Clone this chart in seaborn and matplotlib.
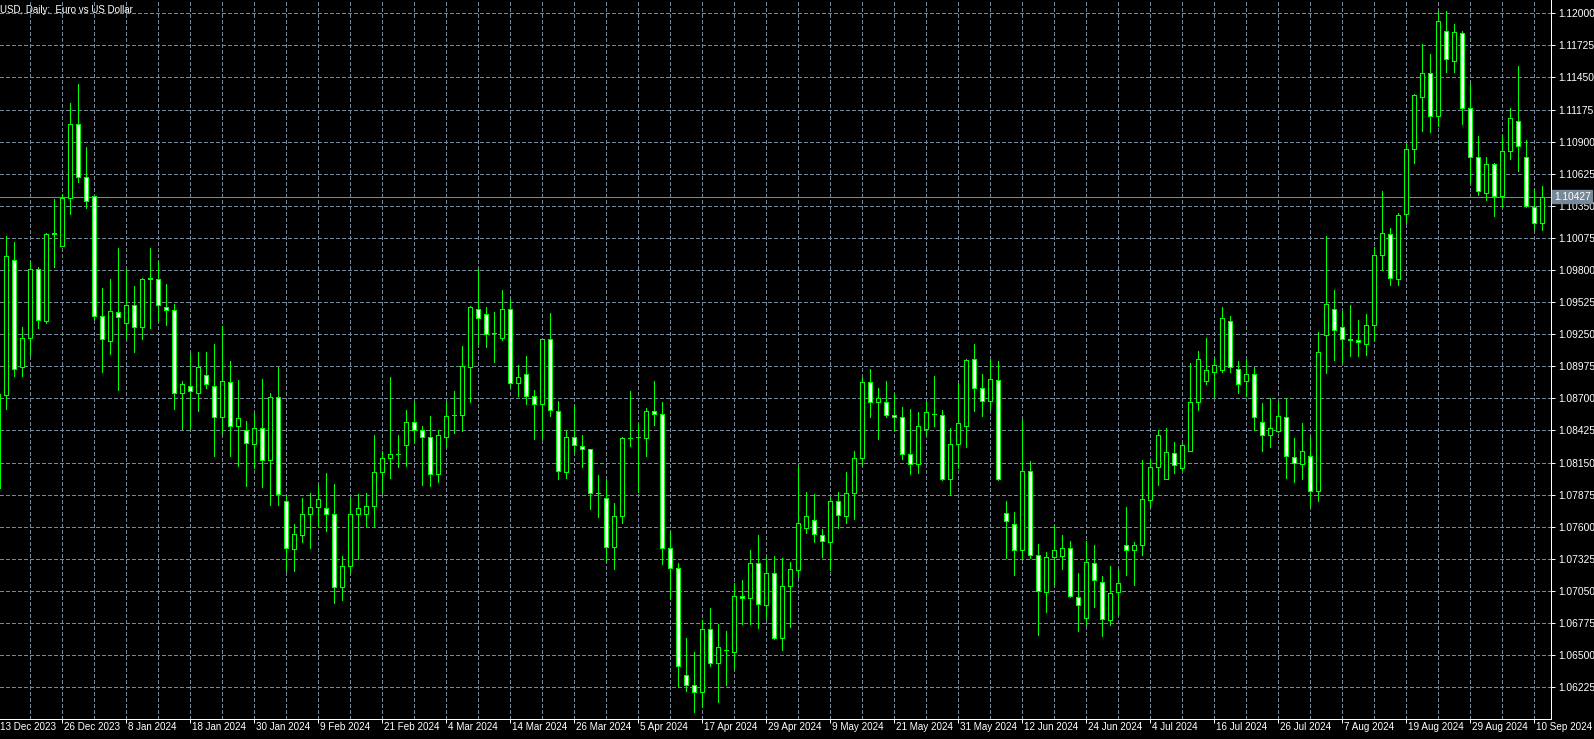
import matplotlib
matplotlib.use("Agg")
import matplotlib.pyplot as plt
import seaborn as sns
import numpy as np

# ---------------- data (EURUSD daily) ----------------
opens = [1.0793, 1.0873, 1.0989, 1.0897, 1.0922, 1.0981, 1.0936, 1.1011, 1.1001, 1.1042,
         1.1105, 1.1060, 1.1043, 1.0941, 1.0919, 1.0944, 1.0935, 1.0950, 1.0931, 1.0972,
         1.0972, 1.0948, 1.0946, 1.0875, 1.0881, 1.0875, 1.0890, 1.0881, 1.0854, 1.0884,
         1.0846, 1.0843, 1.0831, 1.0845, 1.0817, 1.0871, 1.0782, 1.0741, 1.0753, 1.0771,
         1.0777, 1.0776, 1.0771, 1.0708, 1.0726, 1.0771, 1.0771, 1.0778, 1.0807, 1.0819,
         1.0822, 1.0830, 1.0850, 1.0843, 1.0837, 1.0805, 1.0837, 1.0856, 1.0856, 1.0897,
         1.0947, 1.0942, 1.0926, 1.0922, 1.0947, 1.0883, 1.0891, 1.0872, 1.0865, 1.0921,
         1.0859, 1.0807, 1.0837, 1.0829, 1.0827, 1.0789, 1.0785, 1.0743, 1.0769, 1.0836,
         1.0837, 1.0836, 1.0859, 1.0857, 1.0742, 1.0725, 1.0633, 1.0624, 1.0618, 1.0672,
         1.0643, 1.0654, 1.0653, 1.0701, 1.0699, 1.0729, 1.0693, 1.0720, 1.0665, 1.0709,
         1.0723, 1.0759, 1.0766, 1.0753, 1.0747, 1.0782, 1.0769, 1.0789, 1.0819, 1.0884,
         1.0867, 1.0867, 1.0856, 1.0854, 1.0822, 1.0814, 1.0844, 1.0857, 1.0856, 1.0801,
         1.0831, 1.0846, 1.0904, 1.0879, 1.0868, 1.0886, 1.0772, 1.0762, 1.0740, 1.0808,
         1.0736, 1.0704, 1.0734, 1.0735, 1.0742, 1.0700, 1.0682, 1.0729, 1.0713, 1.0680,
         1.0704, 1.0744, 1.0740, 1.0744, 1.0783, 1.0811, 1.0801, 1.0823, 1.0810, 1.0825,
         1.0867, 1.0885, 1.0893, 1.0894, 1.0936, 1.0895, 1.0885, 1.0891, 1.0850, 1.0839,
         1.0842, 1.0854, 1.0820, 1.0814, 1.0821, 1.0791, 1.0924, 1.0947, 1.0931, 1.0921,
         1.0920, 1.0917, 1.0933, 1.0993, 1.1011, 1.0972, 1.1028, 1.1084, 1.1128, 1.1149,
         1.1112, 1.1185, 1.1159, 1.1183, 1.1119, 1.1077, 1.1046, 1.1071, 1.1043, 1.1082,
         1.1108, 1.1077, 1.1034, 1.1020]
highs = [1.0888, 1.1009, 1.1004, 1.0931, 1.0988, 1.0983, 1.1012, 1.1041, 1.1045, 1.1123,
         1.1139, 1.1085, 1.1044, 1.0965, 1.0972, 1.0999, 1.0980, 1.0966, 1.0973, 1.0999,
         1.0987, 1.0968, 1.0951, 1.0885, 1.0908, 1.0910, 1.0910, 1.0917, 1.0932, 1.0902,
         1.0886, 1.0851, 1.0857, 1.0887, 1.0875, 1.0897, 1.0786, 1.0762, 1.0785, 1.0789,
         1.0796, 1.0806, 1.0797, 1.0735, 1.0785, 1.0788, 1.0789, 1.0839, 1.0825, 1.0888,
         1.0839, 1.0860, 1.0867, 1.0846, 1.0855, 1.0843, 1.0867, 1.0876, 1.0915, 1.0949,
         1.0981, 1.0948, 1.0944, 1.0963, 1.0955, 1.0899, 1.0906, 1.0877, 1.0921, 1.0943,
         1.0868, 1.0843, 1.0864, 1.0839, 1.0827, 1.0804, 1.0800, 1.0780, 1.0837, 1.0876,
         1.0848, 1.0862, 1.0885, 1.0867, 1.0756, 1.0729, 1.0665, 1.0653, 1.0680, 1.0690,
         1.0677, 1.0671, 1.0712, 1.0714, 1.0740, 1.0753, 1.0734, 1.0735, 1.0733, 1.0730,
         1.0813, 1.0790, 1.0788, 1.0758, 1.0785, 1.0790, 1.0807, 1.0825, 1.0888, 1.0895,
         1.0879, 1.0885, 1.0874, 1.0863, 1.0861, 1.0858, 1.0867, 1.0889, 1.0860, 1.0845,
         1.0883, 1.0904, 1.0917, 1.0891, 1.0903, 1.0902, 1.0782, 1.0773, 1.0852, 1.0816,
         1.0745, 1.0738, 1.0761, 1.0753, 1.0748, 1.0720, 1.0748, 1.0744, 1.0718, 1.0726,
         1.0724, 1.0777, 1.0747, 1.0817, 1.0817, 1.0843, 1.0845, 1.0833, 1.0831, 1.0900,
         1.0911, 1.0922, 1.0905, 1.0948, 1.0941, 1.0902, 1.0903, 1.0897, 1.0866, 1.0870,
         1.0868, 1.0870, 1.0836, 1.0849, 1.0836, 1.0927, 1.1009, 1.0963, 1.0945, 1.0950,
         1.0937, 1.0942, 1.1000, 1.1048, 1.1016, 1.1029, 1.1088, 1.1131, 1.1174, 1.1165,
         1.1202, 1.1202, 1.1191, 1.1185, 1.1140, 1.1095, 1.1077, 1.1072, 1.1096, 1.1119,
         1.1155, 1.1091, 1.1049, 1.1052]
lows = [1.0773, 1.0861, 1.0889, 1.0889, 1.0907, 1.0930, 1.0935, 1.0983, 1.1001, 1.1028,
        1.1055, 1.1033, 1.0938, 1.0893, 1.0908, 1.0877, 1.0922, 1.0910, 1.0921, 1.0930,
        1.0936, 1.0933, 1.0861, 1.0844, 1.0845, 1.0859, 1.0879, 1.0821, 1.0840, 1.0821,
        1.0812, 1.0795, 1.0810, 1.0794, 1.0779, 1.0779, 1.0722, 1.0722, 1.0747, 1.0742,
        1.0761, 1.0756, 1.0695, 1.0697, 1.0721, 1.0732, 1.0761, 1.0761, 1.0789, 1.0802,
        1.0811, 1.0812, 1.0833, 1.0796, 1.0795, 1.0798, 1.0828, 1.0840, 1.0842, 1.0867,
        1.0917, 1.0914, 1.0901, 1.0920, 1.0880, 1.0872, 1.0865, 1.0835, 1.0835, 1.0855,
        1.0801, 1.0802, 1.0824, 1.0811, 1.0775, 1.0768, 1.0731, 1.0724, 1.0763, 1.0829,
        1.0790, 1.0821, 1.0847, 1.0728, 1.0698, 1.0623, 1.0619, 1.0601, 1.0606, 1.0641,
        1.0610, 1.0624, 1.0638, 1.0677, 1.0677, 1.0673, 1.0681, 1.0664, 1.0654, 1.0674,
        1.0717, 1.0755, 1.0747, 1.0734, 1.0723, 1.0759, 1.0763, 1.0767, 1.0813, 1.0854,
        1.0835, 1.0854, 1.0843, 1.0818, 1.0805, 1.0806, 1.0839, 1.0846, 1.0800, 1.0788,
        1.0810, 1.0828, 1.0859, 1.0855, 1.0861, 1.0800, 1.0733, 1.0719, 1.0732, 1.0733,
        1.0667, 1.0687, 1.0710, 1.0724, 1.0700, 1.0671, 1.0676, 1.0691, 1.0666, 1.0676,
        1.0685, 1.0719, 1.0710, 1.0736, 1.0777, 1.0796, 1.0801, 1.0806, 1.0809, 1.0825,
        1.0860, 1.0882, 1.0871, 1.0893, 1.0893, 1.0875, 1.0872, 1.0843, 1.0825, 1.0828,
        1.0841, 1.0802, 1.0798, 1.0801, 1.0777, 1.0782, 1.0892, 1.0903, 1.0901, 1.0906,
        1.0906, 1.0907, 1.0919, 1.0980, 1.0967, 1.0967, 1.1020, 1.1072, 1.1099, 1.1098,
        1.1103, 1.1150, 1.1150, 1.1105, 1.1055, 1.1044, 1.1040, 1.1026, 1.1035, 1.1075,
        1.1065, 1.1034, 1.1015, 1.1014]
closes = [1.0874, 1.0992, 1.0895, 1.0922, 1.0981, 1.0937, 1.1011, 1.1012, 1.1042, 1.1105,
          1.1060, 1.1039, 1.0941, 1.0921, 1.0945, 1.0940, 1.0950, 1.0931, 1.0972, 1.0973,
          1.0950, 1.0946, 1.0875, 1.0882, 1.0876, 1.0897, 1.0882, 1.0854, 1.0885, 1.0846,
          1.0853, 1.0832, 1.0845, 1.0817, 1.0871, 1.0788, 1.0742, 1.0754, 1.0771, 1.0777,
          1.0784, 1.0771, 1.0708, 1.0726, 1.0771, 1.0776, 1.0778, 1.0807, 1.0819, 1.0822,
          1.0822, 1.0850, 1.0843, 1.0837, 1.0805, 1.0839, 1.0855, 1.0856, 1.0898, 1.0948,
          1.0939, 1.0925, 1.0926, 1.0947, 1.0883, 1.0888, 1.0872, 1.0865, 1.0921, 1.0860,
          1.0808, 1.0837, 1.0830, 1.0827, 1.0789, 1.0789, 1.0743, 1.0769, 1.0836, 1.0836,
          1.0837, 1.0859, 1.0857, 1.0742, 1.0725, 1.0641, 1.0624, 1.0618, 1.0672, 1.0643,
          1.0657, 1.0654, 1.0701, 1.0699, 1.0729, 1.0694, 1.0720, 1.0665, 1.0709, 1.0724,
          1.0763, 1.0769, 1.0754, 1.0748, 1.0782, 1.0770, 1.0789, 1.0819, 1.0884, 1.0867,
          1.0870, 1.0856, 1.0854, 1.0822, 1.0814, 1.0846, 1.0858, 1.0857, 1.0801, 1.0831,
          1.0849, 1.0903, 1.0879, 1.0868, 1.0887, 1.0801, 1.0765, 1.0740, 1.0808, 1.0736,
          1.0705, 1.0734, 1.0740, 1.0742, 1.0701, 1.0693, 1.0730, 1.0714, 1.0681, 1.0703,
          1.0712, 1.0740, 1.0744, 1.0784, 1.0811, 1.0839, 1.0824, 1.0813, 1.0830, 1.0867,
          1.0904, 1.0894, 1.0899, 1.0939, 1.0897, 1.0882, 1.0891, 1.0854, 1.0839, 1.0845,
          1.0855, 1.0821, 1.0815, 1.0825, 1.0791, 1.0910, 1.0951, 1.0929, 1.0921, 1.0920,
          1.0918, 1.0933, 1.0993, 1.1012, 1.0973, 1.1027, 1.1084, 1.1130, 1.1149, 1.1112,
          1.1193, 1.1161, 1.1184, 1.1119, 1.1077, 1.1048, 1.1071, 1.1043, 1.1082, 1.1110,
          1.1086, 1.1035, 1.1020, 1.10427]

date_labels = ["13 Dec 2023", "26 Dec 2023", "8 Jan 2024", "18 Jan 2024", "30 Jan 2024",
               "9 Feb 2024", "21 Feb 2024", "4 Mar 2024", "14 Mar 2024", "26 Mar 2024",
               "5 Apr 2024", "17 Apr 2024", "29 Apr 2024", "9 May 2024", "21 May 2024",
               "31 May 2024", "12 Jun 2024", "24 Jun 2024", "4 Jul 2024", "16 Jul 2024",
               "26 Jul 2024", "7 Aug 2024", "19 Aug 2024", "29 Aug 2024", "10 Sep 2024"]
price_ticks = [1.06225, 1.06500, 1.06775, 1.07050, 1.07325, 1.07600, 1.07875, 1.08150,
               1.08425, 1.08700, 1.08975, 1.09250, 1.09525, 1.09800, 1.10075, 1.10350,
               1.10625, 1.10900, 1.11175, 1.11450, 1.11725, 1.12000]
current_price = 1.10427
title_text = "USD, Daily:  Euro vs US Dollar"

# ---------------- style ----------------
GREEN = "#00ff00"
GRID = "#778899"
W, H = 1594, 739
sns.set_theme(style="dark", rc={"axes.facecolor": "black", "figure.facecolor": "black",
                                "savefig.facecolor": "black"})
plt.rcParams["font.family"] = ["Liberation Sans", "DejaVu Sans"]

fig = plt.figure(figsize=(W / 100, H / 100), dpi=100)
plot_right, plot_bottom = 1551, 719
ax = fig.add_axes([0, (H - plot_bottom) / H, plot_right / W, plot_bottom / H])
ax.set_facecolor("black")

n = len(opens)
x = np.arange(n)
o = np.array(opens); c = np.array(closes); hi = np.array(highs); lo = np.array(lows)

ax.set_xlim(0.25, 194.125)
ax.set_ylim(1.05952, 1.12114)

px = 0.72  # one pixel in points
# grid
for p in price_ticks:
    ax.axhline(p, color=GRID, lw=px, ls=(0, (3.5, 2.5)), zorder=1, antialiased=False)
for i in range(4, n + 1, 4):
    ax.axvline(i, color=GRID, lw=px, ls=(0, (3.5, 2.5)), zorder=1, antialiased=False)

# current price line
ax.axhline(current_price, color=GRID, lw=px, zorder=1.5, antialiased=False)

# candles
ax.vlines(x, lo, hi, color=GREEN, lw=px, zorder=2, antialiased=False)
bull = c >= o
body_bottom = np.minimum(o, c)
body_h = np.maximum(np.abs(c - o), 1e-6)
ax.bar(x[bull], body_h[bull], bottom=body_bottom[bull], width=0.5, color="black",
       edgecolor=GREEN, linewidth=px, zorder=3, antialiased=False)
ax.bar(x[~bull], body_h[~bull], bottom=body_bottom[~bull], width=0.5, color="white",
       edgecolor=GREEN, linewidth=px, zorder=3, antialiased=False)

sns.despine(ax=ax, left=True, top=True, right=False, bottom=False)
for s in ("right", "bottom"):
    ax.spines[s].set_color("white")
    ax.spines[s].set_linewidth(px)
ax.grid(False)

# price axis
ax.yaxis.tick_right()
ax.set_yticks(price_ticks)
ax.set_yticklabels([f"{p:.5f}" for p in price_ticks])
ax.tick_params(axis="y", colors="white", length=4 * px, width=px, pad=2, labelsize=7.4,
               direction="out", right=True, left=False)

# date axis
tick_pos = [8 * k for k in range(1, len(date_labels))]
ax.set_xticks(tick_pos)
ax.set_xticklabels([""] * len(tick_pos))
ax.tick_params(axis="x", colors="white", length=4 * px, width=px, direction="out",
               bottom=True)
for k, lab in enumerate(date_labels):
    ax.annotate(lab, xy=(8 * k, 0), xycoords=("data", "axes fraction"),
                xytext=(2 * px, -2.5 * px), textcoords="offset points",
                ha="left", va="top", color="white", fontsize=7.1, annotation_clip=False)

# current price label box
ax.annotate(f"{current_price:.5f}", xy=(1, current_price), xycoords=("axes fraction", "data"),
            xytext=(3 * px, 0), textcoords="offset points", ha="left", va="center",
            color="white", fontsize=7.4, annotation_clip=False,
            bbox=dict(boxstyle="square,pad=0.15", fc=GRID, ec=GRID))

# title
fig.text(0.5 / W, 1 - 10 / H, title_text, color="white", fontsize=7.0, ha="left", va="center")

fig.savefig("out.png", dpi=100, facecolor="black")
